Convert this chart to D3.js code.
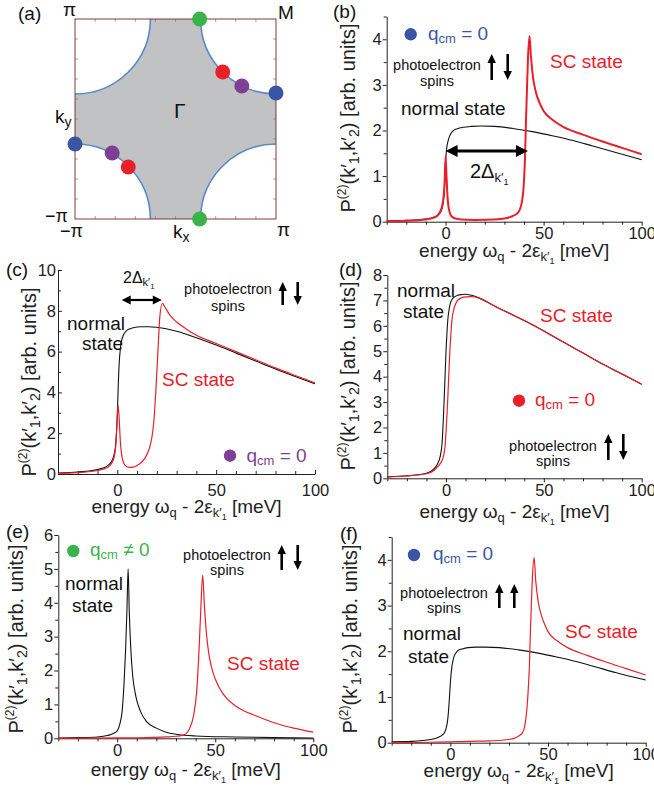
<!DOCTYPE html>
<html><head><meta charset="utf-8">
<script src="https://cdn.jsdelivr.net/npm/d3@7"></script>
<style>body{margin:0;background:#fff}svg{display:block}text{font-family:"Liberation Sans",Arial,sans-serif}</style>
</head><body><svg id="c" width="654" height="793"></svg>
<script>
// ---------------- DATA ----------------
// panel (a): Brillouin zone, k in units of pi
const fsRadius = 0.75;
const kTickVals = [-0.8,-0.6,-0.4,-0.2,0,0.2,0.4,0.6,0.8];
const aDotKx = [0.24, 0.24, 1, -1, 0.47, -0.47, 0.66, -0.63];
const aDotKy = [1, -1, 0.26, -0.25, 0.47, -0.48, 0.33, -0.34];
const aDotGroup = ["e","e","b","b","d","d","c","c"];

// common x ticks
const xMajor = [0, 50, 100];
const xMinor = [-30,-20,-10,10,20,30,40,60,70,80,90];

// panel (b)
const yMajorB = [0,1,2,3,4];
const yMinorB = [0.5,1.5,2.5,3.5,4.5];
const bNormalX = [-30,-20,-10,-6,-4,-3,-2,-1.5,-1,-0.5,0,0.5,1,1.5,2,3,4,6,9,13,18,25,35,45,55,65,75,85,100];
const bNormalY = [0.02,0.03,0.06,0.1,0.14,0.18,0.26,0.34,0.48,0.78,1.3,1.58,1.72,1.8,1.87,1.95,2.0,2.04,2.07,2.09,2.1,2.09,2.04,1.97,1.88,1.78,1.66,1.54,1.36];
const bScX = [-30,-20,-10,-6,-4,-3,-2,-1,-0.5,0,0.5,1,1.5,2,3,5,8,15,25,30,34,37,39,40,40.5,41,41.5,42,42.8,43.5,44.5,46,48,50,55,60,70,80,90,100];
const bScY = [0.01,0.02,0.05,0.09,0.14,0.2,0.3,0.55,0.85,1.43,1.0,0.55,0.33,0.22,0.12,0.07,0.05,0.04,0.05,0.07,0.12,0.2,0.45,0.9,1.4,2.2,2.9,3.55,4.07,3.65,3.2,2.85,2.6,2.43,2.22,2.08,1.91,1.76,1.62,1.48];
const bGap = [0, 42];
const bGapLevel = 1.55;

// panel (c)
const yMajorC = [0,2,4,6,8,10];
const yMinorC = [1,3,5,7,9];
const cNormalX = [-30,-20,-10,-5,-3,-2,-1,-0.5,0,0.5,1,1.5,2,3,5,8,12,16,20,30,40,50,60,70,80,90,100];
const cNormalY = [0.05,0.1,0.22,0.4,0.6,0.82,1.3,1.9,2.9,4.4,5.5,6.1,6.45,6.8,7.05,7.17,7.22,7.22,7.19,7.0,6.68,6.32,5.93,5.54,5.15,4.78,4.42];
const cScX = [-30,-20,-10,-5,-3,-2,-1,-0.5,0,0.4,1,1.6,2.2,3,4,6,8,10,12,14,16,17.5,18.5,19.5,20.5,21.5,22.8,24,26.5,30,35,40,50,60,70,80,90,100];
const cScY = [0.03,0.07,0.17,0.32,0.5,0.7,1.15,1.8,2.8,3.38,2.6,1.5,0.95,0.6,0.42,0.32,0.34,0.42,0.55,0.78,1.2,1.8,2.6,4.1,5.9,7.7,8.37,8.2,7.8,7.45,7.1,6.8,6.4,6.0,5.6,5.2,4.83,4.47];
const cGap = [2.2, 22.5];
const cGapLevel = 8.53;

// panel (d)
const yMajorD = [0,1,2,3,4,5,6,7,8];
const yMinorD = [0.5,1.5,2.5,3.5,4.5,5.5,6.5,7.5];
const dNormalX = [-30,-20,-10,-6,-4,-3,-2,-1.5,-1,-0.5,0,0.5,1,1.5,2,3,4,6,8,10,13,17,22,25,30,40,50,60,70,80,90,100];
const dNormalY = [0.06,0.1,0.2,0.38,0.62,0.85,1.4,2.1,3.0,4.0,5.0,5.75,6.3,6.6,6.82,7.03,7.12,7.2,7.23,7.24,7.2,7.09,6.9,6.77,6.58,6.21,5.8,5.36,4.93,4.5,4.1,3.7];
const dScX = [-30,-20,-10,-6,-4,-3,-2,-1,-0.5,0,0.5,1,1.5,2,2.5,3,4,5,7,10,13,17,22,25,30,40,50,60,70,80,90,100];
const dScY = [0.05,0.09,0.18,0.32,0.48,0.58,0.7,0.98,1.25,1.8,2.5,3.3,4.2,5.05,5.7,6.2,6.65,6.88,7.07,7.14,7.15,7.09,6.9,6.77,6.58,6.21,5.8,5.36,4.93,4.5,4.1,3.7];

// panel (e)
const yMajorE = [0,1,2,3,4,5,6];
const yMinorE = [0.5,1.5,2.5,3.5,4.5,5.5];
const eNormalX = [-30,-20,-10,-5,-2,0,1.5,2.5,3.5,4.3,5,5.6,6.2,7,8,9,10,12,15,20,25,30,40,60,80,100];
const eNormalY = [0.01,0.02,0.04,0.08,0.14,0.22,0.45,0.78,1.6,2.6,3.8,5.0,3.7,2.6,1.8,1.4,1.12,0.78,0.49,0.3,0.18,0.12,0.07,0.04,0.02,0.01];
const eScX = [-30,0,15,25,30,34,37,39,40.5,41.5,42.5,43.6,44.5,45.5,46.6,48,50,53,56,60,65,70,80,90,100];
const eScY = [0.0,0.01,0.02,0.04,0.06,0.1,0.3,0.68,1.35,2.3,3.6,4.82,3.9,3.1,2.55,2.12,1.75,1.4,1.17,0.97,0.8,0.68,0.46,0.3,0.18];

// panel (f)
const yMajorF = [0,1,2,3,4];
const yMinorF = [0.5,1.5,2.5,3.5,4.5];
const fNormalX = [-30,-20,-10,-6,-4,-3,-2,-1.5,-1,-0.5,0,0.5,1,1.5,2,3,4,6,9,13,18,25,35,45,55,65,75,85,100];
const fNormalY = [0.02,0.03,0.07,0.12,0.17,0.22,0.34,0.45,0.65,0.95,1.3,1.55,1.72,1.82,1.9,1.97,2.02,2.05,2.08,2.09,2.09,2.08,2.03,1.96,1.87,1.77,1.65,1.53,1.37];
const fScX = [-30,-10,0,10,20,30,34,37,39,40,40.5,41,41.5,42,42.9,43.7,45,46.5,48.5,50,55,60,70,80,90,100];
const fScY = [0.0,0.01,0.02,0.03,0.04,0.07,0.12,0.22,0.65,1.25,1.7,2.45,3.05,3.6,4.05,3.55,3.08,2.8,2.57,2.43,2.22,2.08,1.91,1.76,1.62,1.48];

// ---------------- DRAW ----------------
const svg = d3.select("#c");
const RED="#e8202a", BLUE="#3b55a5", PURPLE="#7e3f97", GREEN="#3bb34a", FSC="#5b88c8", GREY="#c1c2c4";
const SERIF = "Liberation Serif, Times New Roman, serif";

function rich(g, x, y, parts, o={}) {
  const t = g.append("text").attr("x",x).attr("y",y)
    .attr("font-size",o.size||18).attr("fill",o.fill||"#111")
    .attr("text-anchor",o.anchor||"start");
  if (o.family) t.attr("font-family", o.family);
  if (o.rotate) t.attr("transform",`rotate(${o.rotate},${x},${y})`);
  let cur = 0;
  parts.forEach(p => {
    const s = p.shift||0;
    const ts = t.append("tspan").text(p.t).attr("dy", s-cur);
    if (p.size) ts.attr("font-size", p.size);
    if (p.family) ts.attr("font-family", p.family);
    cur = s;
  });
  return t;
}
function arrowV(g, x, yTail, yTip) {
  const dir = Math.sign(yTip-yTail), hl=9, hw=4.2;
  g.append("line").attr("x1",x).attr("y1",yTail).attr("x2",x).attr("y2",yTip-dir*hl+dir)
    .attr("stroke","#000").attr("stroke-width",2.6);
  g.append("path").attr("d",`M${x},${yTip}L${x-hw},${yTip-dir*hl}L${x+hw},${yTip-dir*hl}Z`).attr("fill","#000");
}
function arrowH2(g, xa, xb, y, w, hl, hw) {
  g.append("line").attr("x1",xa+hl-1).attr("y1",y).attr("x2",xb-hl+1).attr("y2",y)
    .attr("stroke","#000").attr("stroke-width",w);
  g.append("path").attr("d",`M${xa},${y}L${xa+hl},${y-hw}L${xa+hl},${y+hw}Z`).attr("fill","#000");
  g.append("path").attr("d",`M${xb},${y}L${xb-hl},${y-hw}L${xb-hl},${y+hw}Z`).attr("fill","#000");
}
function spinLabel(g, cx, y1, y2) {
  g.append("text").attr("x",cx).attr("y",y1).attr("text-anchor","middle").attr("font-size",14.5).attr("fill","#111").text("photoelectron");
  g.append("text").attr("x",cx).attr("y",y2).attr("text-anchor","middle").attr("font-size",14.5).attr("fill","#111").text("spins");
}
function qcm(g, cx, cy, tx, ty, color, neq) {
  g.append("circle").attr("cx",cx).attr("cy",cy).attr("r",6.2).attr("fill",color);
  rich(g, tx, ty, [{t:"q"},{t:"cm",size:13,shift:3},{t: neq ? " ≠ 0" : " = 0", shift:0}], {size:19, fill:color});
}

// ---- panel (a)
(function(){
  const g = svg.append("g");
  const kx = d3.scaleLinear().domain([-1,1]).range([75,276]);
  const ky = d3.scaleLinear().domain([-1,1]).range([219,19]);
  g.append("clipPath").attr("id","bz").append("rect").attr("x",kx(-1)).attr("y",ky(1)).attr("width",kx(1)-kx(-1)).attr("height",ky(-1)-ky(1));
  g.append("rect").attr("x",kx(-1)).attr("y",ky(1)).attr("width",kx(1)-kx(-1)).attr("height",ky(-1)-ky(1)).attr("fill",GREY);
  const rx = kx(-1+fsRadius)-kx(-1), ry = ky(-1)-ky(-1+fsRadius);
  const corners = [[-1,1],[1,1],[-1,-1],[1,-1]];
  g.append("g").attr("clip-path","url(#bz)").selectAll("ellipse").data(corners).join("ellipse")
    .attr("cx",d=>kx(d[0])).attr("cy",d=>ky(d[1])).attr("rx",rx).attr("ry",ry)
    .attr("fill","#fff").attr("stroke",FSC).attr("stroke-width",1.6);
  const tk = g.append("g").attr("stroke","#8a8a8a").attr("stroke-width",0.8);
  kTickVals.forEach(v=>{
    tk.append("line").attr("x1",kx(v)).attr("x2",kx(v)).attr("y1",ky(-1)).attr("y2",ky(-1)-3);
    tk.append("line").attr("x1",kx(v)).attr("x2",kx(v)).attr("y1",ky(1)).attr("y2",ky(1)+3);
    tk.append("line").attr("y1",ky(v)).attr("y2",ky(v)).attr("x1",kx(-1)).attr("x2",kx(-1)+3);
    tk.append("line").attr("y1",ky(v)).attr("y2",ky(v)).attr("x1",kx(1)).attr("x2",kx(1)-3);
  });
  g.append("rect").attr("x",kx(-1)).attr("y",ky(1)).attr("width",kx(1)-kx(-1)).attr("height",ky(-1)-ky(1))
    .attr("fill","none").attr("stroke","#6a2a2a").attr("stroke-width",0.9);
  const col = {b:BLUE, c:PURPLE, d:RED, e:GREEN};
  g.selectAll("circle.pt").data(aDotKx.map((v,i)=>[v,aDotKy[i],aDotGroup[i]])).join("circle")
    .attr("cx",d=>kx(d[0])).attr("cy",d=>ky(d[1])).attr("r",7.5).attr("fill",d=>col[d[2]]);
  const T = (x,y,s,txt,fam)=>g.append("text").attr("x",x).attr("y",y).attr("font-size",s).attr("fill","#111").attr("font-family",fam||null).text(txt);
  T(18,20,19,"(a)");
  T(63,16,19,"π",SERIF);
  T(278,19,19,"M");
  T(174,118,21,"Γ",SERIF);
  T(45,222,18,"−π",SERIF);
  T(60,237,18,"−π",SERIF);
  T(277,236,19,"π",SERIF);
  rich(g,55,123,[{t:"k"},{t:"y",size:14,shift:4}],{size:19});
  rich(g,173,238,[{t:"k"},{t:"x",size:14,shift:4}],{size:19});
})();

// ---- generic plot panel
function plotPanel(cfg) {
  const g = svg.append("g");
  const x = d3.scaleLinear().domain([-30,100]).range([cfg.x0,cfg.x1]);
  const y = d3.scaleLinear().domain([0,cfg.ymax]).range([cfg.yb,cfg.yt]);
  const inw = cfg.inward ? -1 : 1;
  const style = sel => sel.attr("font-size",16.5).attr("font-family","Liberation Sans, Arial, sans-serif")
    .call(s=>s.selectAll("text").attr("fill","#222"))
    .call(s=>s.selectAll("line,path").attr("stroke","#222"));
  const padX = cfg.inward ? 7 : 2, padY = cfg.inward ? 5 : 1;
  g.append("g").attr("transform",`translate(0,${cfg.yb})`)
    .call(d3.axisBottom(x).tickValues(xMajor).tickSize(4*inw).tickPadding(cfg.inward? 10 : 2).tickSizeOuter(0).tickFormat(d3.format("d"))).call(style);
  g.append("g").attr("transform",`translate(0,${cfg.yb})`)
    .call(d3.axisBottom(x).tickValues(xMinor).tickSize(3*inw).tickSizeOuter(0).tickFormat("")).call(style)
    .call(s=>s.select(".domain").remove());
  const ya = g.append("g").attr("transform",`translate(${cfg.x0},0)`)
    .call(d3.axisLeft(y).tickValues(cfg.yMajor).tickSize(4*inw).tickPadding(1).tickSizeOuter(0).tickFormat(d3.format("d"))).call(style);
  if (cfg.inward) ya.selectAll("text").attr("x",-2);
  g.append("g").attr("transform",`translate(${cfg.x0},0)`)
    .call(d3.axisLeft(y).tickValues(cfg.yMinor).tickSize(3*inw).tickSizeOuter(0).tickFormat("")).call(style)
    .call(s=>s.select(".domain").remove());
  if (cfg.inward) g.selectAll("g.tick text").filter(function(){return this.closest("g").parentNode; });
  const line = d3.line().x(d=>x(d[0])).y(d=>y(d[1])).curve(d3.curveMonotoneX);
  cfg.curves.forEach(c=>{
    g.append("path").datum(c.xs.map((v,i)=>[v,c.ys[i]])).attr("d",line)
      .attr("fill","none").attr("stroke",c.color).attr("stroke-width",c.w||1.2).attr("stroke-linejoin","round");
  });
  rich(g, (cfg.x0+cfg.x1)/2, cfg.xtY, [
    {t:"energy ω"},{t:"q",size:13,shift:4},{t:" - 2ε",shift:0},{t:"k′",size:13,shift:4},{t:"1",size:9,shift:7},{t:" [meV]",shift:0}
  ], {size:19, anchor:"middle", fill:"#222"});
  rich(g, cfg.ytX, cfg.ytY, [
    {t:"P"},{t:"(2)",size:12,shift:-9},{t:"(k′",shift:0},{t:"1",size:14,shift:4},{t:",k′",shift:0},{t:"2",size:14,shift:4},{t:") [arb. units]",shift:0}
  ], {size:20, anchor:"middle", fill:"#222", rotate:-90});
  g.append("text").attr("x",cfg.lx).attr("y",cfg.ly).attr("font-size",19).attr("fill","#111").text(cfg.label);
  return {g,x,y};
}

// ---- (b)
(function(){
  const {g,x,y} = plotPanel({x0:386.7,x1:641.7,yb:221.7,yt:16.5,ymax:4.5,yMajor:yMajorB,yMinor:yMinorB,
    curves:[{xs:bNormalX,ys:bNormalY,color:"#111",w:1.1},{xs:bScX,ys:bScY,color:RED,w:2}],
    xtY:257,ytX:355,ytY:118,lx:333,ly:18,label:"(b)"});
  qcm(g,410.7,34.3,428,40,BLUE,false);
  spinLabel(g,437,70,86);
  arrowV(g,491.7,80,54); arrowV(g,507.7,54,80);
  g.append("text").attr("x",401).attr("y",115).attr("font-size",19).attr("fill","#111").text("normal state");
  g.append("text").attr("x",550).attr("y",68).attr("font-size",19).attr("fill",RED).text("SC state");
  arrowH2(g,x(bGap[0]),x(bGap[1]),y(bGapLevel),2.8,12,6);
  rich(g,470,178,[{t:"2Δ"},{t:"k′",size:13,shift:4},{t:"1",size:9,shift:7}],{size:20});
})();

// ---- (c)
(function(){
  const {g,x,y} = plotPanel({x0:58,x1:315,yb:474,yt:270,ymax:10,yMajor:yMajorC,yMinor:yMinorC,inward:true,
    curves:[{xs:cNormalX,ys:cNormalY,color:"#111",w:1.1},{xs:cScX,ys:cScY,color:RED,w:1.2}],
    xtY:513,ytX:36,ytY:382,lx:6,ly:276,label:"(c)"});
  arrowH2(g,x(cGap[0]),x(cGap[1]),y(cGapLevel),2.2,9,4.5);
  rich(g,123,283,[{t:"2Δ"},{t:"k′",size:11,shift:3},{t:"1",size:8,shift:6}],{size:16});
  spinLabel(g,228,294,311);
  arrowV(g,282.7,305,282); arrowV(g,297.7,282,305);
  g.append("text").attr("x",67).attr("y",330).attr("font-size",19).attr("fill","#111").text("normal");
  g.append("text").attr("x",82).attr("y",350).attr("font-size",19).attr("fill","#111").text("state");
  g.append("text").attr("x",162).attr("y",386).attr("font-size",19).attr("fill",RED).text("SC state");
  qcm(g,230,455.7,246.5,462,PURPLE,false);
})();

// ---- (d)
(function(){
  const {g,x,y} = plotPanel({x0:387.3,x1:641.7,yb:478.3,yt:275,ymax:8,yMajor:yMajorD,yMinor:yMinorD,
    curves:[{xs:dNormalX,ys:dNormalY,color:"#111",w:1.1},{xs:dScX,ys:dScY,color:RED,w:1.2}],
    xtY:518,ytX:355,ytY:376,lx:339,ly:276,label:"(d)"});
  g.append("text").attr("x",397).attr("y",297).attr("font-size",19).attr("fill","#111").text("normal");
  g.append("text").attr("x",403).attr("y",318).attr("font-size",19).attr("fill","#111").text("state");
  g.append("text").attr("x",540).attr("y",322).attr("font-size",19).attr("fill",RED).text("SC state");
  qcm(g,519,400.7,535,406,RED,false);
  spinLabel(g,553,451,466);
  arrowV(g,608.3,460,434); arrowV(g,623.3,434,460);
})();

// ---- (e)
(function(){
  const {g,x,y} = plotPanel({x0:58.3,x1:313.3,yb:738.3,yt:535,ymax:6,yMajor:yMajorE,yMinor:yMinorE,
    curves:[{xs:eNormalX,ys:eNormalY,color:"#111",w:1.1},{xs:eScX,ys:eScY,color:RED,w:1.2}],
    xtY:776,ytX:23,ytY:639,lx:6,ly:538,label:"(e)"});
  qcm(g,73.3,551,90,556,GREEN,true);
  spinLabel(g,227,560,575);
  arrowV(g,281.7,570,545); arrowV(g,297.7,545,570);
  g.append("text").attr("x",65).attr("y",590).attr("font-size",19).attr("fill","#111").text("normal");
  g.append("text").attr("x",72).attr("y",612).attr("font-size",19).attr("fill","#111").text("state");
  g.append("text").attr("x",227).attr("y",670).attr("font-size",19).attr("fill",RED).text("SC state");
})();

// ---- (f)
(function(){
  const {g,x,y} = plotPanel({x0:391.7,x1:645.7,yb:742.7,yt:537,ymax:4.5,yMajor:yMajorF,yMinor:yMinorF,
    curves:[{xs:fNormalX,ys:fNormalY,color:"#111",w:1.1},{xs:fScX,ys:fScY,color:RED,w:1.2}],
    xtY:777,ytX:357,ytY:639,lx:340,ly:540,label:"(f)"});
  qcm(g,414,555,433,560,BLUE,false);
  spinLabel(g,444,598,613);
  arrowV(g,499.3,608,584); arrowV(g,514.3,608,584);
  g.append("text").attr("x",403).attr("y",640).attr("font-size",19).attr("fill","#111").text("normal");
  g.append("text").attr("x",408).attr("y",663).attr("font-size",19).attr("fill","#111").text("state");
  g.append("text").attr("x",565).attr("y",638).attr("font-size",19).attr("fill",RED).text("SC state");
})();
</script></body></html>
